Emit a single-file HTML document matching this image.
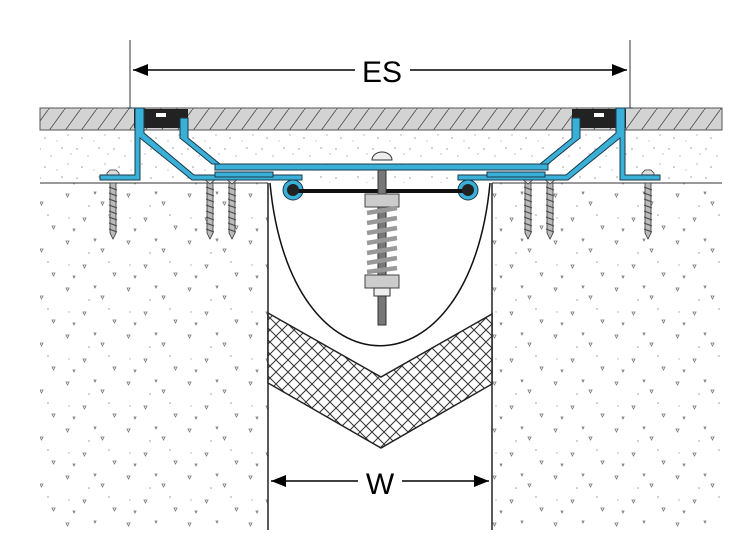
<!DOCTYPE html>
<html><head><meta charset="utf-8"><style>html,body{margin:0;padding:0;background:#fff}svg{display:block}</style></head>
<body>
<svg width="750" height="540" viewBox="0 0 750 540" xmlns="http://www.w3.org/2000/svg">
<defs>
<pattern id="spk" width="37" height="29" patternUnits="userSpaceOnUse">
<circle cx="3" cy="4" r="0.8" fill="#999"/><circle cx="14" cy="11" r="0.7" fill="#aaa"/><circle cx="25" cy="3" r="0.8" fill="#999"/><circle cx="31" cy="19" r="0.7" fill="#aaa"/><circle cx="8" cy="22" r="0.8" fill="#999"/><circle cx="20" cy="25" r="0.6" fill="#aaa"/><circle cx="34" cy="9" r="0.6" fill="#999"/>
</pattern>
<pattern id="agg" width="61" height="47" patternUnits="userSpaceOnUse">
<path d="M5 6l3 0-1.5 3z M40 14l3 0-1.5 3z M22 30l3 0-1.5 3z M52 38l3 0-1.5 3z M12 41l2 0-1 2z M33 4l2 0-1 2z" fill="none" stroke="#777" stroke-width="0.8"/>
<circle cx="28" cy="18" r="0.8" fill="#999"/><circle cx="48" cy="27" r="0.8" fill="#999"/><circle cx="8" cy="30" r="0.7" fill="#aaa"/>
</pattern>
<pattern id="hat" width="16" height="22" patternUnits="userSpaceOnUse">
<rect width="16" height="22" fill="#d3d3d3"/><line x1="0" y1="22" x2="16" y2="0" stroke="#555" stroke-width="0.9"/>
</pattern>
<pattern id="xh" width="12" height="12" patternUnits="userSpaceOnUse">
<rect width="12" height="12" fill="#fff"/><path d="M0 0L12 12M12 0L0 12" stroke="#333" stroke-width="1"/>
</pattern>
<marker id="ar" markerWidth="10" markerHeight="8" refX="10" refY="4" orient="auto-start-reverse"><path d="M0 0L10 4L0 8z" fill="#000"/></marker>
<g id="scr">
<path d="M-3 0 h6 v50 l-3 6 l-3 -6z" fill="#bbb" stroke="#333" stroke-width="0.8"/>
<path d="M-4 4 l8 3 M-4 10 l8 3 M-4 16 l8 3 M-4 22 l8 3 M-4 28 l8 3 M-4 34 l8 3 M-4 40 l8 3 M-4 46 l8 3" stroke="#444" stroke-width="1"/>
</g>
</defs>
<rect x="40" y="130" width="682" height="53" fill="url(#spk)"/>
<rect x="40" y="183" width="228" height="347" fill="url(#agg)"/>
<rect x="492" y="183" width="230" height="347" fill="url(#agg)"/>
<rect x="40" y="108" width="682" height="22" fill="url(#hat)" stroke="#555" stroke-width="1"/>
<line x1="40" y1="183" x2="268" y2="183" stroke="#333"/>
<line x1="492" y1="183" x2="722" y2="183" stroke="#333"/>
<line x1="268" y1="183" x2="268" y2="530" stroke="#222" stroke-width="1.5"/>
<line x1="492" y1="183" x2="492" y2="530" stroke="#222" stroke-width="1.5"/>
<path d="M270 183 C 290 400, 470 400, 490 183" fill="none" stroke="#111" stroke-width="1.5"/>
<path d="M268 313 L381 377 L492 314 L492 384 L381 448 L268 383z" fill="url(#xh)" stroke="#222" stroke-width="1.5"/>
<line x1="130" y1="40" x2="130" y2="108" stroke="#333"/>
<line x1="630" y1="40" x2="630" y2="108" stroke="#333"/>
<line x1="133" y1="70" x2="355" y2="70" stroke="#000" stroke-width="1.5" marker-start="url(#ar)"/>
<line x1="410" y1="70" x2="627" y2="70" stroke="#000" stroke-width="1.5" marker-end="url(#ar)"/>
<text x="382" y="82" font-family="Liberation Sans, sans-serif" font-size="30" text-anchor="middle">ES</text>
<line x1="271" y1="481" x2="358" y2="481" stroke="#000" stroke-width="1.5" marker-start="url(#ar)"/>
<line x1="402" y1="481" x2="489" y2="481" stroke="#000" stroke-width="1.5" marker-end="url(#ar)"/>
<text x="380" y="494" font-family="Liberation Sans, sans-serif" font-size="30" text-anchor="middle">W</text>
<use href="#scr" x="113" y="183"/><use href="#scr" x="210" y="183"/><use href="#scr" x="232" y="183"/>
<use href="#scr" x="528" y="183"/><use href="#scr" x="550" y="183"/><use href="#scr" x="648" y="183"/>
<g fill="#ddd" stroke="#333" stroke-width="0.8">
<path d="M107 178 h12 v-5 l-3 -3 h-6 l-3 3z"/><path d="M642 178 h12 v-5 l-3 -3 h-6 l-3 3z"/>
<path d="M203 178 h14 l-7 6z"/><path d="M225 178 h14 l-7 6z"/><path d="M521 178 h14 l-7 6z"/><path d="M543 178 h14 l-7 6z"/>
</g>
<rect x="134" y="109" width="54" height="19" fill="#222"/>
<rect x="572" y="109" width="54" height="19" fill="#222"/>
<rect x="156" y="113" width="10" height="4" fill="#fff"/><rect x="594" y="113" width="10" height="4" fill="#fff"/>
<g fill="#3ab0d8" stroke="#1a3a4a" stroke-width="1">
<path d="M127 108 h8 v67 h-35 v5 h40 v-42 l52 42 h110 v-5 h-108 l-50 -42 v-25 h-9z"/>
<path d="M180 118 h8 v20 l32 26 h-8 l-32 -26z"/>
<path d="M215 164 h333 v6 h-333z"/>
<path d="M215 172 h58 v5 h-58z"/>
<path d="M633 108 h-8 v67 h35 v5 h-40 v-42 l-52 42 h-110 v-5 h108 l50 -42 v-25 h9z"/>
<path d="M580 118 h-8 v20 l-32 26 h8 l32 -26z"/>
<path d="M487 172 h58 v5 h-58z"/>
<circle cx="293" cy="190" r="10"/><circle cx="468" cy="190" r="10"/>
</g>
<line x1="293" y1="191" x2="468" y2="191" stroke="#111" stroke-width="4"/>
<circle cx="293" cy="190" r="6" fill="#222"/><circle cx="468" cy="190" r="6" fill="#222"/>
<path d="M372 160 a10 8 0 0 1 20 0z" fill="#eee" stroke="#333"/>
<rect x="378" y="170" width="8" height="155" fill="#777" stroke="#333"/>
<rect x="365" y="194" width="34" height="13" fill="#ccc" stroke="#444"/>
<path d="M367 213 L397 208 M367 223 L397 218 M367 233 L397 228 M367 243 L397 238 M367 253 L397 248 M367 263 L397 258 M367 272 L397 268" stroke="#999" stroke-width="4.5" fill="none"/>
<rect x="365" y="275" width="34" height="13" fill="#ccc" stroke="#444"/>
<rect x="374" y="288" width="16" height="8" fill="#eee" stroke="#333"/>
</svg>
</body></html>
